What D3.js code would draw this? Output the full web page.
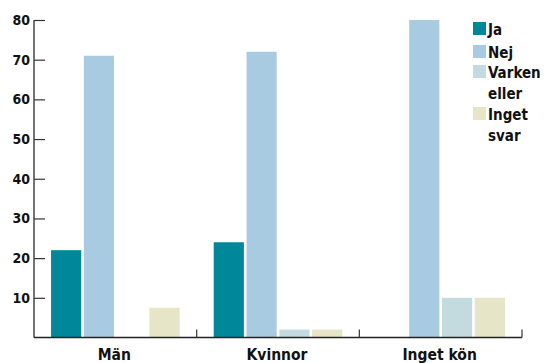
<!DOCTYPE html>
<html>
<head>
<meta charset="utf-8">
<script src="https://cdn.jsdelivr.net/npm/d3@7"></script>
<style>
  html, body { margin: 0; padding: 0; background: #fff; }
  svg { display: block; }
  text { font-family: "DejaVu Sans Condensed", "DejaVu Sans", sans-serif; font-weight: bold; fill: #111; }
</style>
</head>
<body>
<svg id="chart" width="553" height="363"></svg>
<script>
// Survey answers by gender group (percent)
const groups = ["Män", "Kvinnor", "Inget kön"];
const answers = ["Ja", "Nej", "Varken eller", "Inget svar"];
const ja = [22, 24, 0];
const nej = [71, 72, 80];
const varken = [0, 2, 10];
const ingetSvar = [7.5, 2, 10];
const yTicks = [10, 20, 30, 40, 50, 60, 70, 80];
const colors = ["#00879a", "#a8cbe2", "#c3dbdf", "#e6e5c8"];

const seriesValues = [ja, nej, varken, ingetSvar];

const svg = d3.select("#chart");
const plotLeft = 34, plotRight = 522, plotTop = 20, plotBottom = 337.5;

const x0 = d3.scaleBand().domain(groups).range([plotLeft, plotRight]);
const x1 = d3.scaleBand().domain(answers)
  .range([0, x0.bandwidth()])
  .paddingOuter(0.52).paddingInner(0.08);
const y = d3.scaleLinear().domain([0, 80]).range([plotBottom, plotTop]);

// Bars
groups.forEach((g, gi) => {
  answers.forEach((a, ai) => {
    const v = seriesValues[ai][gi];
    if (v <= 0) return;
    svg.append("rect")
      .attr("x", x0(g) + x1(a))
      .attr("y", y(v))
      .attr("width", x1.bandwidth())
      .attr("height", y(0) - y(v))
      .attr("fill", colors[ai]);
  });
});

// Y axis
const yAxis = d3.axisRight(y).tickValues(yTicks).tickSize(11).tickFormat("");
const gy = svg.append("g").attr("transform", `translate(${plotLeft},0)`).call(yAxis);
gy.select(".domain").remove();
gy.selectAll(".tick line").attr("stroke", "#333").attr("stroke-width", 1.2);
svg.append("line")
  .attr("x1", plotLeft).attr("x2", plotLeft)
  .attr("y1", y(80)).attr("y2", y(0))
  .attr("stroke", "#444").attr("stroke-width", 1.5);
svg.selectAll(".ylab").data(yTicks).enter().append("text")
  .attr("class", "ylab")
  .attr("x", 30).attr("y", d => y(d) + 5)
  .attr("text-anchor", "end")
  .style("font-size", "14px")
  .text(d => d);

// X axis with ticks at group boundaries
svg.append("line")
  .attr("x1", plotLeft).attr("x2", plotRight)
  .attr("y1", plotBottom).attr("y2", plotBottom)
  .attr("stroke", "#222").attr("stroke-width", 1.5);
groups.forEach(g => {
  const xe = x0(g) + x0.bandwidth();
  svg.append("line")
    .attr("x1", xe).attr("x2", xe)
    .attr("y1", plotBottom).attr("y2", plotBottom - 8)
    .attr("stroke", "#333").attr("stroke-width", 1.2);
});
svg.selectAll(".xlab").data(groups).enter().append("text")
  .attr("class", "xlab")
  .attr("x", d => x0(d) + x0.bandwidth() / 2 - 1)
  .attr("y", 360)
  .attr("text-anchor", "middle")
  .style("font-size", "15.5px")
  .text(d => d);

// Legend
const legendRows = [
  { lines: ["Ja"], y: 22 },
  { lines: ["Nej"], y: 45 },
  { lines: ["Varken", "eller"], y: 65 },
  { lines: ["Inget", "svar"], y: 107 }
];
legendRows.forEach((r, i) => {
  svg.append("rect")
    .attr("x", 473).attr("y", r.y)
    .attr("width", 13).attr("height", 13)
    .attr("fill", colors[i]);
  r.lines.forEach((t, li) => {
    svg.append("text")
      .attr("x", 488).attr("y", r.y + 13 + li * 21)
      .style("font-size", "15px")
      .text(t);
  });
});
</script>
</body>
</html>
